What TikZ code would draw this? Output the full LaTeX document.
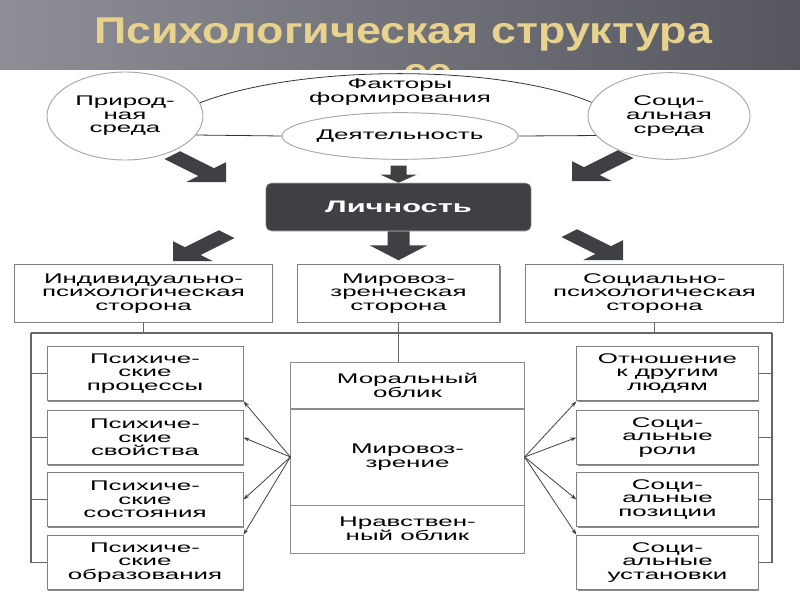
\documentclass[tikz,border=0pt]{standalone}
\usepackage{fontspec}
\usetikzlibrary{shapes.geometric,arrows.meta,shadows}
\newfontfamily\widefont{Liberation Sans}[FakeStretch=1.85]
\newfontfamily\titlefont{Liberation Sans}[FakeStretch=1.2]
\definecolor{bandleft}{RGB}{142,142,150}
\definecolor{bandright}{RGB}{86,86,94}
\definecolor{titlegold}{RGB}{231,210,142}
\definecolor{darkbox}{RGB}{62,64,67}

\tikzset{
  lbl/.style={font=\widefont\fontsize{10.5}{10.2}\selectfont, align=center, inner sep=0pt},
  factor/.style={lbl, ellipse, draw=black!35, line width=0.7pt},
  sidebox/.style={lbl, rectangle, draw=black!50, line width=0.7pt, fill=white,
    drop shadow={shadow xshift=0.9pt, shadow yshift=-0.9pt, fill=black!45, opacity=1}},
  midbox/.style={lbl, rectangle, draw=black!45, line width=0.7pt, minimum width=175pt},
  conn/.style={draw=black!60, line width=1.1pt},
  lnk/.style={draw=black!75, line width=0.6pt, -{Stealth[length=4.5pt,width=3pt]}},
  titletext/.style={font=\titlefont\bfseries\fontsize{28}{30}\selectfont, text=titlegold, anchor=base}
}

\begin{document}
\begin{tikzpicture}[x=0.75pt, y=-0.75pt]
      \useasboundingbox (0,0) rectangle (800,600);
      % title band
      \shade[left color=bandleft, right color=bandright] (0,0) rectangle (800,69);
      \node[titletext] (title) at (403,43) {Психологическая структура};
      \begin{scope}
        \clip (0,0) rectangle (800,69);
        \node[titletext] (title2) at (428,84) {ее};
      \end{scope}

      % factors
      \node[factor, minimum width=117pt, minimum height=66pt] (nat) at (125,116) {Природ-\\ная\\среда};
      \node[factor, minimum width=121.5pt, minimum height=65pt] (socenv) at (669,116) {Соци-\\альная\\среда};
      \node[factor, minimum width=161pt, minimum height=35pt] (act) at (400,136) {Деятельность};
      \node[lbl] (fact) at (400,92) {Факторы\\формирования};
      \draw[black!80, line width=0.6pt] (nat.10) .. controls (300,64) and (500,64) .. (socenv.170);
      \draw[black!80, line width=0.6pt] (nat.-15) -- (act.west);
      \draw[black!80, line width=0.6pt] (act.east) -- (socenv.195);

      % personality
      \node[lbl, font=\widefont\bfseries\fontsize{12.5}{14}\selectfont, text=white, fill=darkbox, draw=black!30,
        rounded corners=4pt, minimum width=199pt, minimum height=36pt] (pers) at (398.5,207) {Личность};
      \fill[darkbox] (pers.north) -- ++(-18,-8) -- ++(10,0) -- ++(0,-9) -- ++(16,0) -- ++(0,9) -- ++(10,0) -- cycle;
      \fill[darkbox] (pers.south) ++(-11,0) -- ++(0,14) -- ++(-18,0) -- ++(29,15) -- ++(29,-15) -- ++(-18,0) -- ++(0,-14) -- cycle;
      \coordinate (tl) at (226,182);
      \coordinate (tr) at (572,181);
      \coordinate (bl) at (173,261);
      \coordinate (br) at (623,260);
      \foreach \tip/\ang in {tl/-45, tr/-135, bl/-135, br/-45}
        \fill[darkbox, shift={(\tip)}, xscale=2, rotate=\ang]
          (0,0) -- (-14,14) -- (-14,5.5) -- (-38,5.5) -- (-38,-5.5) -- (-14,-5.5) -- (-14,-14) -- cycle;

      % three sides
      \node[sidebox, minimum width=193pt, minimum height=43pt] (ind) at (143.5,293.5) {Индивидуально-\\психологическая\\сторона};
      \node[sidebox, minimum width=152pt, minimum height=43pt] (wv) at (398.5,293.5) {Мировоз-\\зренческая\\сторона};
      \node[sidebox, minimum width=193pt, minimum height=43pt] (sp) at (654.5,293.5) {Социально-\\психологическая\\сторона};

      % left column
      \node[sidebox, minimum width=147pt, minimum height=41pt] (lp1) at (145,373.5) {Психиче-\\ские\\процессы};
      \node[sidebox, minimum width=147pt, minimum height=41pt] (lp2) at (145,437.5) {Психиче-\\ские\\свойства};
      \node[sidebox, minimum width=147pt, minimum height=41pt] (lp3) at (145,499.5) {Психиче-\\ские\\состояния};
      \node[sidebox, minimum width=147pt, minimum height=41pt] (lp4) at (145,562.5) {Психиче-\\ские\\образования};

      % middle column
      \node[midbox, minimum height=35pt] (moral) at (407.5,385.5) {Моральный\\облик};
      \node[midbox, minimum height=72pt] (mirv) at (407.5,457) {Мировоз-\\зрение};
      \node[midbox, minimum height=36pt] (nrav) at (407.5,529) {Нравствен-\\ный облик};

      % right column
      \node[sidebox, minimum width=136pt, minimum height=41pt] (rp1) at (667.5,373.5) {Отношение\\к другим\\людям};
      \node[sidebox, minimum width=136pt, minimum height=41pt] (rp2) at (667.5,437.5) {Соци-\\альные\\роли};
      \node[sidebox, minimum width=136pt, minimum height=41pt] (rp3) at (667.5,499.5) {Соци-\\альные\\позиции};
      \node[sidebox, minimum width=136pt, minimum height=41pt] (rp4) at (667.5,562.5) {Соци-\\альные\\установки};

      % brackets
      \coordinate (lbr) at (31,333);
      \coordinate (rbr) at (772,333);
      \draw[conn] (lbr) -- (rbr);
      \draw[conn] (ind.south) -- (ind.south |- lbr);
      \draw[conn] (sp.south) -- (sp.south |- rbr);
      \draw[conn] (wv.south) -- (wv.south |- moral.north);
      \draw[conn] (lbr) |- (lp4.west);
      \draw[conn] (lp1.west) -- (lp1.west -| lbr);
      \draw[conn] (lp2.west) -- (lp2.west -| lbr);
      \draw[conn] (lp3.west) -- (lp3.west -| lbr);
      \draw[conn] (rbr) |- (rp4.east);
      \draw[conn] (rp1.east) -- (rp1.east -| rbr);
      \draw[conn] (rp2.east) -- (rp2.east -| rbr);
      \draw[conn] (rp3.east) -- (rp3.east -| rbr);

      % links
      \draw[lnk] (mirv.west) -- (lp1.south east);
      \draw[lnk] (mirv.west) -- (lp2.east);
      \draw[lnk] (mirv.west) -- (lp3.east);
      \draw[lnk] (mirv.west) -- (lp4.north east);
      \draw[lnk] (mirv.east) -- (rp1.south west);
      \draw[lnk] (mirv.east) -- (rp2.west);
      \draw[lnk] (mirv.east) -- (rp3.west);
      \draw[lnk] (mirv.east) -- (rp4.north west);
\end{tikzpicture}
\end{document}
